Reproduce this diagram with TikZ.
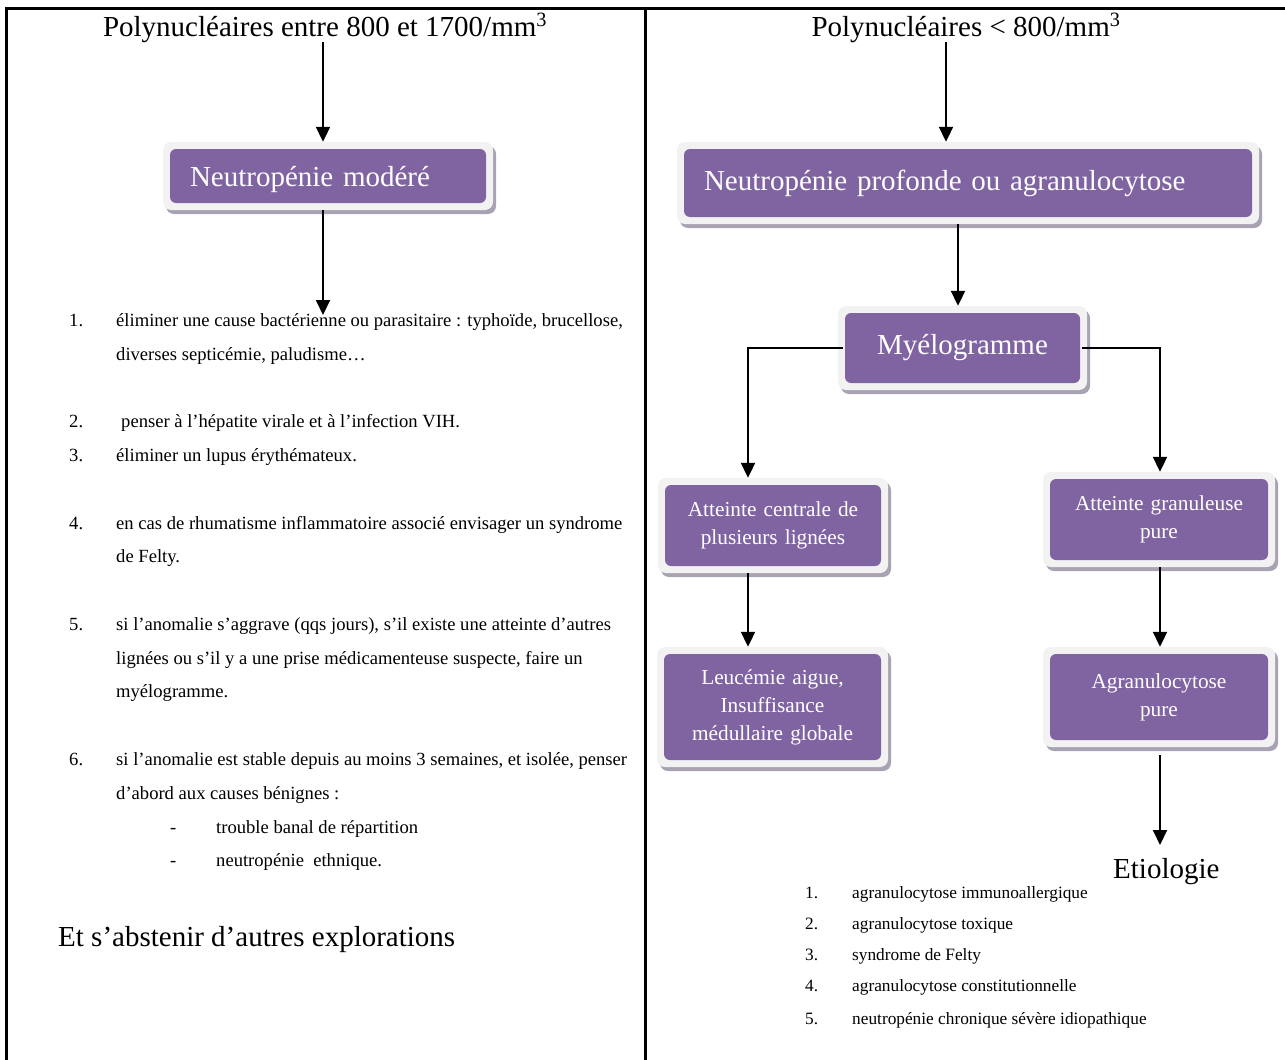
\documentclass[tikz,border=0pt]{standalone}
\usepackage{fontspec}
\setmainfont{Liberation Serif}
\usetikzlibrary{arrows.meta,shadows}

\definecolor{boxPurple}{RGB}{128,100,162}
\definecolor{frameGray}{RGB}{242,242,242}
\definecolor{shadowGray}{RGB}{168,162,178}

\newcommand{\bigtxt}{\fontsize{29}{34}\selectfont}
\newcommand{\midtxt}{\fontsize{21.3}{28}\selectfont}
\newcommand{\smalltxt}{\fontsize{17.3}{20}\selectfont}
\newcommand{\listtxt}{\fontsize{18.6}{22}\selectfont}

\begin{document}
\begin{tikzpicture}[x=1pt,y=-1pt,
  rule/.style={line width=3pt},
  arr/.style={line width=2pt,-{Triangle[width=14pt,length=15pt]}},
  box/.style={rounded corners=8pt, fill=frameGray, inner sep=0pt, text=white,
    drop shadow={shadow xshift=3pt, shadow yshift=-4pt, fill=shadowGray, opacity=1},
    path picture={\fill[boxPurple, rounded corners=6pt]
      ([shift={(7pt,7pt)}]path picture bounding box.south west) rectangle
      ([shift={(-7pt,-7pt)}]path picture bounding box.north east);}},
  head/.style={inner sep=0pt, font=\bigtxt, anchor=base},
  item/.style={inner sep=0pt, font=\listtxt, anchor=base west},
  etitem/.style={inner sep=0pt, font=\smalltxt, anchor=base west},
]
\useasboundingbox (0,0) rectangle (1285,1060);

% page frame
\draw[rule] (5,8.5) -- (1285,8.5);
\draw[rule] (6,8.5) -- (6,1060);
\draw[rule] (645,8.5) -- (645,1060);

% ---------------- left column ----------------
\node[head] (t1) at (325,36) {Polynucléaires entre 800 et 1700/mm\textsuperscript{3}};

\node[box, minimum width=330pt, minimum height=68pt, text width=276pt, text depth=0pt,
      inner xsep=27pt, align=left, font=\bigtxt] (b1) at (328,176) {Neutropénie modéré};

\coordinate (x1) at (323,0);
\coordinate (l1end) at (323,315);
\draw[arr] (t1.south -| x1) -- (b1.north -| x1);
\draw[arr] (b1.south -| x1) -- (l1end);

\node[item] (n1) at (69,326) {1.};
\node[item] (i1a) at (116,326) {éliminer une cause bactérienne ou parasitaire : typhoïde, brucellose,};
\node[item] (i1b) at (116,360) {diverses septicémie, paludisme…};
\node[item] (n2) at (69,427) {2.};
\node[item] (i2) at (121,427) {penser à l’hépatite virale et à l’infection VIH.};
\node[item] (n3) at (69,461) {3.};
\node[item] (i3) at (116,461) {éliminer un lupus érythémateux.};
\node[item] (n4) at (69,529) {4.};
\node[item] (i4a) at (116,529) {en cas de rhumatisme inflammatoire associé envisager un syndrome};
\node[item] (i4b) at (116,562) {de Felty.};
\node[item] (n5) at (69,630) {5.};
\node[item] (i5a) at (116,630) {si l’anomalie s’aggrave (qqs jours), s’il existe une atteinte d’autres};
\node[item] (i5b) at (116,664) {lignées ou s’il y a une prise médicamenteuse suspecte, faire un};
\node[item] (i5c) at (116,697) {myélogramme.};
\node[item] (n6) at (69,765) {6.};
\node[item] (i6a) at (116,765) {si l’anomalie est stable depuis au moins 3 semaines, et isolée, penser};
\node[item] (i6b) at (116,799) {d’abord aux causes bénignes :};
\node[item] (d1) at (170,833) {-};
\node[item] (s1) at (216,833) {trouble banal de répartition};
\node[item] (d2) at (170,866) {-};
\node[item] (s2) at (216,866) {neutropénie\ \ ethnique.};

\node[inner sep=0pt, font=\bigtxt, anchor=base west] (abst) at (58,946) {Et s’abstenir d’autres explorations};

% ---------------- right column ----------------
\node[head] (t2) at (966,36) {Polynucléaires < 800/mm\textsuperscript{3}};

\node[box, minimum width=582pt, minimum height=82pt, text width=528pt,
      inner xsep=27pt, align=left, font=\bigtxt] (b2) at (968,183) {Neutropénie profonde ou agranulocytose};

\node[box, minimum width=249pt, minimum height=84pt, font=\bigtxt] (b3) at (962.5,348) {Myélogramme};

\node[box, minimum width=230pt, minimum height=95pt, text width=210pt,
      align=center, font=\midtxt] (b4) at (773,525.5) {Atteinte centrale de\\plusieurs lignées};
\node[box, minimum width=232pt, minimum height=95pt, text width=212pt,
      align=center, font=\midtxt] (b5) at (1159,519.5) {Atteinte granuleuse\\pure};
\node[box, minimum width=231pt, minimum height=120pt, text width=211pt,
      align=center, font=\midtxt] (b6) at (772.5,707) {Leucémie aigue,\\Insuffisance\\médullaire globale};
\node[box, minimum width=232pt, minimum height=100pt, text width=212pt,
      align=center, font=\midtxt] (b7) at (1159,697) {Agranulocytose\\pure};

\coordinate (x2) at (946,0);
\coordinate (x3) at (958,0);
\coordinate (x4) at (748,0);
\coordinate (x5) at (1160,0);
\coordinate (etend) at (1160,845);

\draw[arr] (t2.south -| x2) -- (b2.north -| x2);
\draw[arr] (b2.south -| x3) -- (b3.north -| x3);
\draw[arr] ([xshift=5pt]b3.west) -| (b4.north -| x4);
\draw[arr] ([xshift=-5pt]b3.east) -| (b5.north -| x5);
\draw[arr] (b4.south -| x4) -- (b6.north -| x4);
\draw[arr] (b5.south -| x5) -- (b7.north -| x5);
\draw[arr, shorten <=8pt] (b7.south -| x5) -- (etend);

\node[inner sep=0pt, font=\bigtxt, anchor=base west] (etio) at (1113,878) {Etiologie};

\node[etitem] (m1) at (805,898) {1.};
\node[etitem] (e1) at (852,898) {agranulocytose immunoallergique};
\node[etitem] (m2) at (805,929) {2.};
\node[etitem] (e2) at (852,929) {agranulocytose toxique};
\node[etitem] (m3) at (805,960) {3.};
\node[etitem] (e3) at (852,960) {syndrome de Felty};
\node[etitem] (m4) at (805,991) {4.};
\node[etitem] (e4) at (852,991) {agranulocytose constitutionnelle};
\node[etitem] (m5) at (805,1024) {5.};
\node[etitem] (e5) at (852,1024) {neutropénie chronique sévère idiopathique};
\end{tikzpicture}
\end{document}
